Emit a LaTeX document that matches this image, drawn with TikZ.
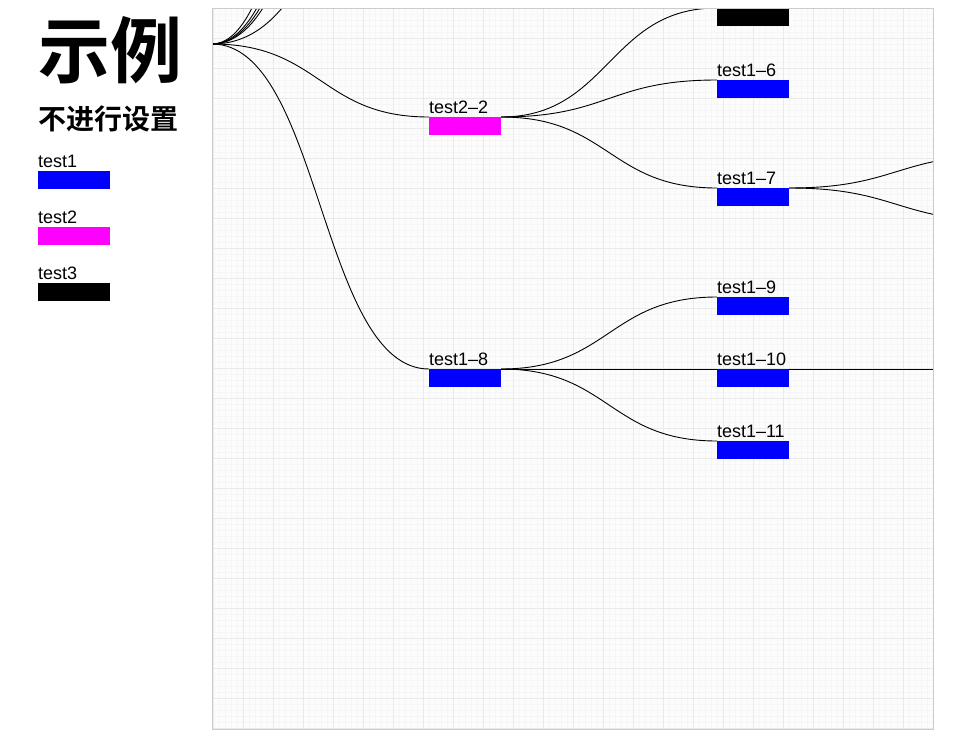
\documentclass[tikz,border=0pt]{standalone}
\usepackage{fontspec}
\setmainfont{Liberation Sans}
\newfontfamily\cjkfont{Noto Sans CJK SC Bold}
\usetikzlibrary{positioning, calc}
\definecolor{barblue}{RGB}{0, 0, 255}
\definecolor{barpink}{RGB}{255, 0, 255}
\definecolor{gridline}{RGB}{234, 234, 234}
\definecolor{gridfaint}{RGB}{246, 246, 246}
\definecolor{framegray}{RGB}{204, 204, 204}
\tikzset{
  bar/.style={anchor=north west, minimum width=72pt, minimum height=18pt, inner sep=0pt, outer sep=0pt},
  lbl/.style={inner sep=0pt, outer sep=0pt, font=\fontsize{18}{18}\selectfont},
  link/.style={draw=black, line width=0.9pt,
    to path={let \p1=(\tikztostart), \p2=(\tikztotarget) in
      .. controls ({(\x1+\x2)/2},\y1) and ({(\x1+\x2)/2},\y2) .. (\tikztotarget)}}
}

\begin{document}
\begin{tikzpicture}[x=1pt, y=1pt]
        \useasboundingbox (0,0) rectangle (956,-739);
        \node[anchor=base west, inner sep=0pt, font=\cjkfont\fontsize{72}{72}\selectfont] (title) at (38,-77) {示例};
        \node[anchor=base west, inner sep=0pt, font=\cjkfont\fontsize{28}{28}\selectfont] (subtitle) at (38,-129) {不进行设置};
        \foreach \name/\y/\col in {test1/171/barblue, test2/227/barpink, test3/283/black}
        {
            \node[bar, fill=\col] (key-\name) at (38,-\y) {};
            \node[lbl, above right=3pt and 0pt of key-\name.north west] (key-\name-t) {\name};
        }
        \begin{scope}
            \clip (212,-8) rectangle (933,-729);
            \fill[black!1] (212,-8) rectangle (933,-729);
            \draw[gridfaint, line width=0.5pt, shift={(213,-8)}] (0,-721) grid[step=6] (720,0);
            \draw[gridline, line width=0.8pt, shift={(213,-8)}] (0,-721) grid[step=30] (720,0);
            \coordinate (root) at (212,-44);
            \foreach \i/\y in {1/623, 2/475, 3/404, 4/348, 5/146}
                \coordinate (up\i) at (429,\y);
            \foreach \i/\y in {1/155, 2/221, 3/369}
                \coordinate (dn\i) at (1005,-\y);
            \node[bar, fill=black] (blk) at (717,-8) {};
            \foreach \name/\x/\y/\col/\txt in {
                n22/429/117/barpink/test2--2,
                n18/429/369/barblue/test1--8,
                n16/717/80/barblue/test1--6,
                n17/717/188/barblue/test1--7,
                n19/717/297/barblue/test1--9,
                n110/717/369/barblue/test1--10,
                n111/717/441/barblue/test1--11}
            {
                \node[bar, fill=\col] (\name) at (\x,-\y) {};
                \node[lbl, above right=3pt and 0pt of \name.north west] (\name-t) {\txt};
            }
            \foreach \a/\b in {root/up1, root/up2, root/up3, root/up4, root/up5, root/n22, root/n18,
                n22/blk, n22/n16, n22/n17, n17/dn1, n17/dn2, n18/n19, n18/n110, n18/n111, n110/dn3}
                \draw[link] (\a.north east) to (\b.north west);
        \end{scope}
        \draw[framegray] (212,-8) rectangle (933,-729);
\end{tikzpicture}
\end{document}
